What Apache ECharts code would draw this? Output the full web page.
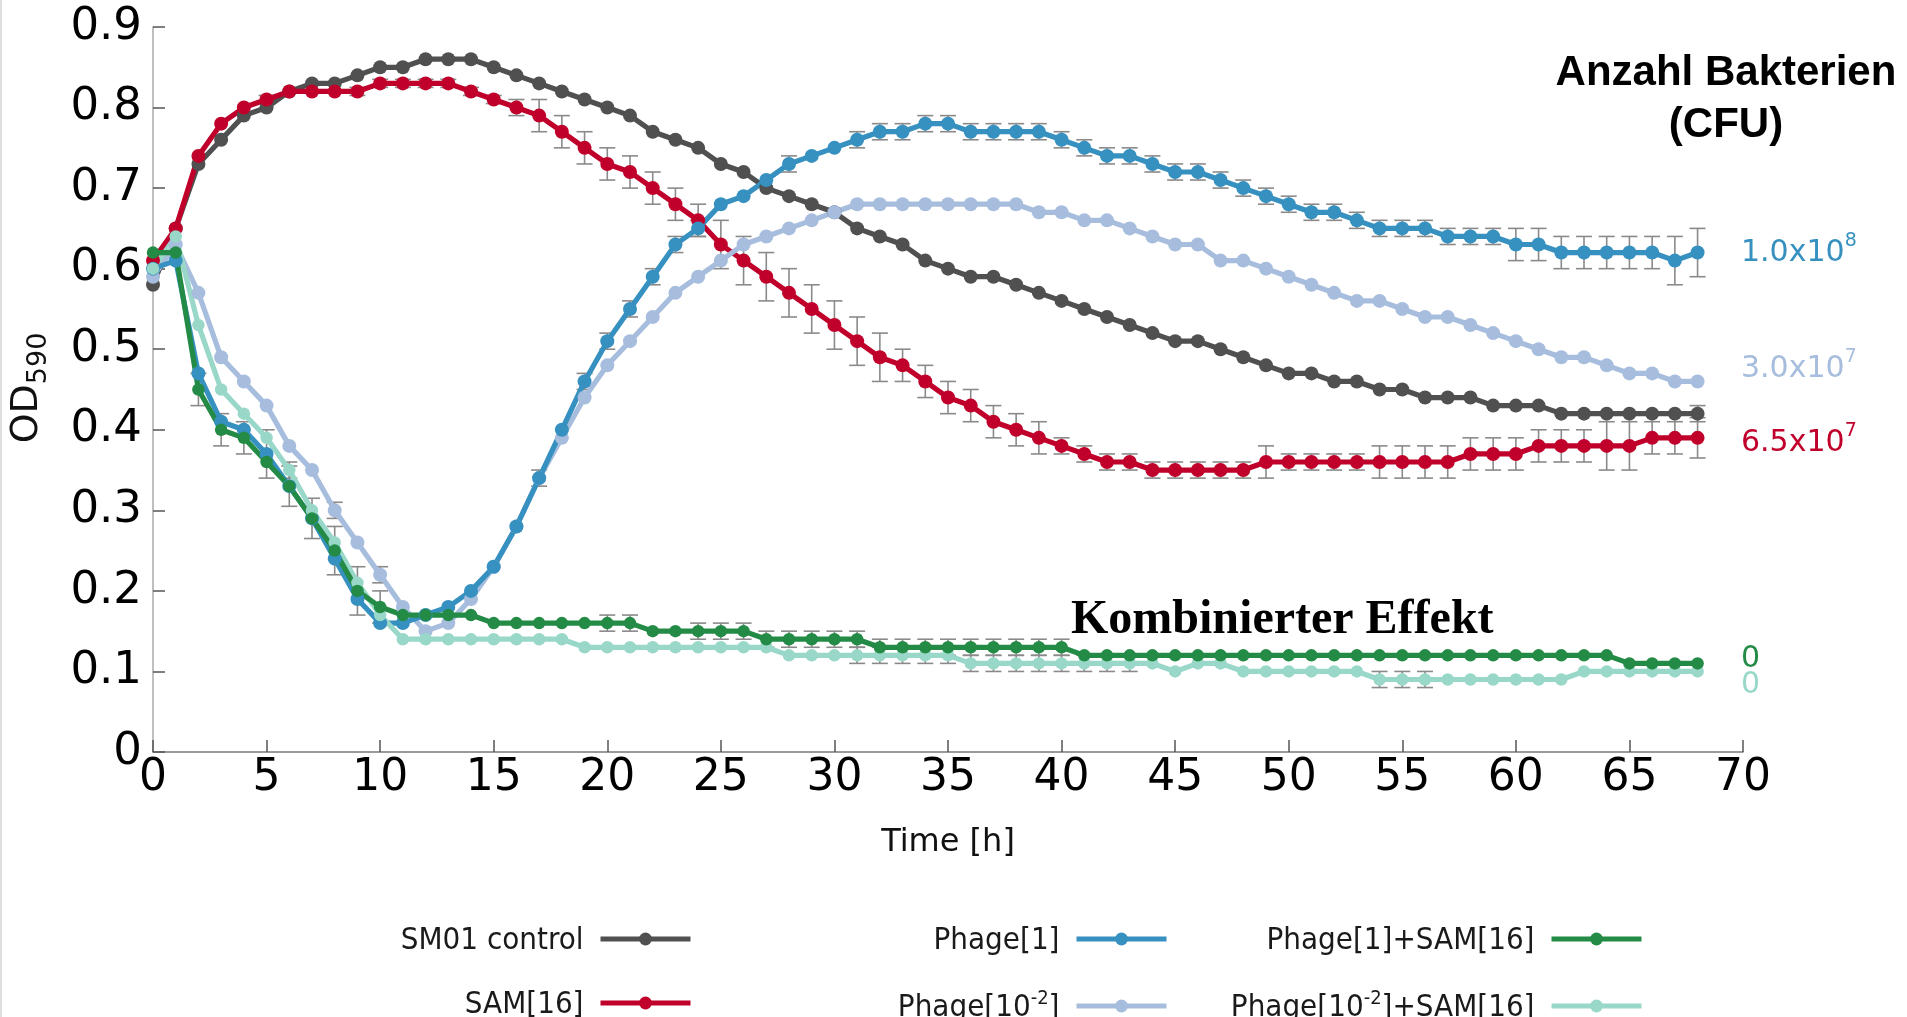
<!DOCTYPE html>
<html>
<head>
<meta charset="utf-8">
<script src="https://cdn.jsdelivr.net/npm/echarts@6/dist/echarts.min.js"></script>
<style>html,body{margin:0;padding:0;background:#fff}#c{width:1907px;height:1017px}</style>
</head>
<body>
<div id="c"></div>
<script>
// ---------------- DATA ----------------
const hours = [0,1,2,3,4,5,6,7,8,9,10,11,12,13,14,15,16,17,18,19,20,21,22,23,24,25,26,27,28,29,30,31,32,33,34,35,36,37,38,39,40,41,42,43,44,45,46,47,48,49,50,51,52,53,54,55,56,57,58,59,60,61,62,63,64,65,66,67,68];

const ctrl = [0.58,0.65,0.73,0.76,0.79,0.80,0.82,0.83,0.83,0.84,
  0.85,0.85,0.86,0.86,0.86,0.85,0.84,0.83,0.82,0.81,
  0.80,0.79,0.77,0.76,0.75,0.73,0.72,0.70,0.69,0.68,
  0.67,0.65,0.64,0.63,0.61,0.60,0.59,0.59,0.58,0.57,
  0.56,0.55,0.54,0.53,0.52,0.51,0.51,0.50,0.49,0.48,
  0.47,0.47,0.46,0.46,0.45,0.45,0.44,0.44,0.44,0.43,
  0.43,0.43,0.42,0.42,0.42,0.42,0.42,0.42,0.42];
const ctrlErr = [0,0,0,0,0,0,0,0,0,0, 0,0,0,0,0,0,0,0,0,0, 0,0,0,0,0,0,0,0,0,0,
  0,0,0,0,0,0,0,0,0,0, 0,0,0,0,0,0,0,0,0,0, 0,0,0,0,0,0,0,0,0,0, 0,0,0,0,0,0,0,0,0.01];

const sam = [0.61,0.65,0.74,0.78,0.80,0.81,0.82,0.82,0.82,0.82,
  0.83,0.83,0.83,0.83,0.82,0.81,0.80,0.79,0.77,0.75,
  0.73,0.72,0.70,0.68,0.66,0.63,0.61,0.59,0.57,0.55,
  0.53,0.51,0.49,0.48,0.46,0.44,0.43,0.41,0.40,0.39,
  0.38,0.37,0.36,0.36,0.35,0.35,0.35,0.35,0.35,0.36,
  0.36,0.36,0.36,0.36,0.36,0.36,0.36,0.36,0.37,0.37,
  0.37,0.38,0.38,0.38,0.38,0.38,0.39,0.39,0.39];
const samErr = [0,0,0,0,0,0.005,0,0,0,0.005,
  0.005,0.005,0.005,0.005,0.005,0.005,0.01,0.02,0.02,0.02,
  0.02,0.02,0.02,0.02,0.02,0.03,0.03,0.03,0.03,0.03,
  0.03,0.03,0.03,0.02,0.02,0.02,0.02,0.02,0.02,0.02,
  0.01,0.01,0.01,0.01,0.01,0.01,0.01,0.01,0.01,0.02,
  0.01,0.01,0.01,0.01,0.02,0.02,0.02,0.02,0.02,0.02,
  0.02,0.02,0.02,0.02,0.03,0.03,0.02,0.02,0.025];

const phage1 = [0.60,0.61,0.47,0.41,0.40,0.37,0.33,0.29,0.24,0.19,
  0.16,0.16,0.17,0.18,0.20,0.23,0.28,0.34,0.40,0.46,
  0.51,0.55,0.59,0.63,0.65,0.68,0.69,0.71,0.73,0.74,
  0.75,0.76,0.77,0.77,0.78,0.78,0.77,0.77,0.77,0.77,
  0.76,0.75,0.74,0.74,0.73,0.72,0.72,0.71,0.70,0.69,
  0.68,0.67,0.67,0.66,0.65,0.65,0.65,0.64,0.64,0.64,
  0.63,0.63,0.62,0.62,0.62,0.62,0.62,0.61,0.62];
const phage1Err = [0,0,0,0,0,0.03,0,0,0,0,
  0,0,0,0,0,0,0,0.01,0,0.01,
  0.01,0.01,0.01,0.01,0.01,0,0,0,0.01,0,
  0,0.01,0.01,0.01,0.01,0.01,0.01,0.01,0.01,0.01,
  0.01,0.01,0.01,0.01,0.01,0.01,0.01,0.01,0.01,0.01,
  0.01,0.01,0.01,0.01,0.01,0.01,0.01,0.01,0.01,0.01,
  0.02,0.02,0.02,0.02,0.02,0.02,0.02,0.03,0.03];

const phage2 = [0.59,0.63,0.57,0.49,0.46,0.43,0.38,0.35,0.30,0.26,
  0.22,0.18,0.15,0.16,0.19,0.23,0.28,0.34,0.39,0.44,
  0.48,0.51,0.54,0.57,0.59,0.61,0.63,0.64,0.65,0.66,
  0.67,0.68,0.68,0.68,0.68,0.68,0.68,0.68,0.68,0.67,
  0.67,0.66,0.66,0.65,0.64,0.63,0.63,0.61,0.61,0.60,
  0.59,0.58,0.57,0.56,0.56,0.55,0.54,0.54,0.53,0.52,
  0.51,0.50,0.49,0.49,0.48,0.47,0.47,0.46,0.46];
const phage2Err = [0,0,0,0,0,0,0,0,0.01,0, 0.01,0,0,0,0,0,0,0,0,0, 0,0,0,0,0,0,0,0,0,0,
  0,0,0,0,0,0,0,0,0,0, 0,0,0,0,0,0,0,0,0,0, 0,0,0,0,0,0,0,0,0,0, 0,0,0,0,0,0,0,0,0];

const combo1 = [0.62,0.62,0.45,0.40,0.39,0.36,0.33,0.29,0.25,0.20,
  0.18,0.17,0.17,0.17,0.17,0.16,0.16,0.16,0.16,0.16,
  0.16,0.16,0.15,0.15,0.15,0.15,0.15,0.14,0.14,0.14,
  0.14,0.14,0.13,0.13,0.13,0.13,0.13,0.13,0.13,0.13,
  0.13,0.12,0.12,0.12,0.12,0.12,0.12,0.12,0.12,0.12,
  0.12,0.12,0.12,0.12,0.12,0.12,0.12,0.12,0.12,0.12,
  0.12,0.12,0.12,0.12,0.12,0.11,0.11,0.11,0.11];
const combo1Err = [0,0,0.02,0.02,0.02,0,0.025,0.025,0.03,0.03,
  0.02,0,0,0,0,0,0,0,0,0,
  0.01,0.01,0,0,0.01,0.01,0.01,0.01,0.01,0.01,
  0.01,0.01,0.01,0.01,0.01,0.01,0.01,0.01,0.01,0.01,
  0.01,0,0,0,0,0,0,0,0,0, 0,0,0,0,0,0,0,0,0,0, 0,0,0,0,0,0,0,0,0];

const combo2 = [0.60,0.64,0.53,0.45,0.42,0.39,0.35,0.30,0.26,0.21,
  0.17,0.14,0.14,0.14,0.14,0.14,0.14,0.14,0.14,0.13,
  0.13,0.13,0.13,0.13,0.13,0.13,0.13,0.13,0.12,0.12,
  0.12,0.12,0.12,0.12,0.12,0.12,0.11,0.11,0.11,0.11,
  0.11,0.11,0.11,0.11,0.11,0.10,0.11,0.11,0.10,0.10,
  0.10,0.10,0.10,0.10,0.09,0.09,0.09,0.09,0.09,0.09,
  0.09,0.09,0.09,0.10,0.10,0.10,0.10,0.10,0.10];
const combo2Err = [0,0,0,0,0,0,0.01,0,0,0, 0,0,0,0,0,0,0,0,0,0, 0,0,0,0,0,0,0,0,0,0,
  0,0.01,0.01,0.01,0.01,0.01,0.01,0.01,0.01,0.01,
  0.01,0.01,0.01,0.01,0,0,0,0,0,0,
  0,0,0,0,0.01,0.01,0.01,0,0,0, 0,0,0,0,0,0,0,0,0];

const yTicks = ['0','0.1','0.2','0.3','0.4','0.5','0.6','0.7','0.8','0.9'];

// end-of-curve CFU labels
const cfuLabels = [
  {main:'1.0x10', sup:'8', color:'#3690C0', y:250},
  {main:'3.0x10', sup:'7', color:'#A7BDDD', y:366},
  {main:'6.5x10', sup:'7', color:'#C0002B', y:440},
  {main:'0', sup:'', color:'#238B45', y:656},
  {main:'0', sup:'', color:'#99D8C9', y:682}
];

// ---------------- SERIES DEFINITIONS (draw order) ----------------
const defs = [
  {name:'SM01 control', data:ctrl, err:ctrlErr, color:'#505050', size:14},
  {name:'SAM[16]', data:sam, err:samErr, color:'#C0002B', size:14},
  {name:'Phage[10^-2]', data:phage2, err:phage2Err, color:'#A7BDDD', size:14},
  {name:'Phage[1]', data:phage1, err:phage1Err, color:'#3690C0', size:14},
  {name:'Phage[10^-2]+SAM[16]', data:combo2, err:combo2Err, color:'#99D8C9', size:12.5},
  {name:'Phage[1]+SAM[16]', data:combo1, err:combo1Err, color:'#238B45', size:12.5}
];

const series = [];
defs.forEach(d => {
  const errData = [];
  hours.forEach((t, i) => { if (d.err[i] > 0) errData.push([t, d.data[i] - d.err[i], d.data[i] + d.err[i]]); });
  series.push({
    type:'custom', name:d.name + ' sd', silent:true, z:1,
    encode:{x:0, y:[1,2]},
    data: errData,
    renderItem(params, api) {
      const x = api.value(0);
      const lo = api.coord([x, api.value(1)]);
      const hi = api.coord([x, api.value(2)]);
      const w = 8;
      const st = {stroke:'#8a8a8a', lineWidth:1.6};
      return {type:'group', children:[
        {type:'line', shape:{x1:lo[0], y1:lo[1], x2:hi[0], y2:hi[1]}, style:st},
        {type:'line', shape:{x1:lo[0]-w, y1:lo[1], x2:lo[0]+w, y2:lo[1]}, style:st},
        {type:'line', shape:{x1:hi[0]-w, y1:hi[1], x2:hi[0]+w, y2:hi[1]}, style:st}
      ]};
    }
  });
});
defs.forEach(d => {
  series.push({
    type:'line', name:d.name, z:2,
    data: hours.map((t, i) => [t, d.data[i]]),
    symbol:'circle', symbolSize:d.size, showAllSymbol:true,
    lineStyle:{color:d.color, width:5.2},
    itemStyle:{color:d.color},
    emphasis:{disabled:true}
  });
});

function legendFmt(name) {
  if (name.indexOf('10^-2') >= 0) {
    const parts = name.split('10^-2');
    return '{n|' + parts[0] + '10}{s|-2}{n|' + parts[1] + '}';
  }
  return '{n|' + name + '}';
}
const legFont = '"DejaVu Sans Condensed", "DejaVu Sans", sans-serif';
const legendBase = {
  orient:'vertical', align:'right', itemWidth:90, itemHeight:16, itemGap:33,
  top:920, height:170,
  selectedMode:false, formatter:legendFmt,
  lineStyle:{width:5},
  textStyle:{
    padding:[0,12,0,0],
    rich:{
      n:{fontSize:31, fontFamily:legFont, color:'#1a1a1a', lineHeight:34, verticalAlign:'bottom'},
      s:{fontSize:20, fontFamily:legFont, color:'#1a1a1a', lineHeight:19, verticalAlign:'top'}
    }
  }
};

const graphics = [
  {type:'line', shape:{x1:1, y1:0, x2:1, y2:1017}, style:{stroke:'#dedede', lineWidth:2}, silent:true},
  {type:'text', x:27, y:388, rotation:Math.PI/2, silent:true, style:{
    text:'{a|OD}{b|590}', align:'center', verticalAlign:'middle',
    rich:{
      a:{fontSize:38, fontFamily:'DejaVu Sans', fill:'#111', lineHeight:50, verticalAlign:'middle'},
      b:{fontSize:27, fontFamily:'DejaVu Sans', fill:'#111', lineHeight:27, verticalAlign:'bottom'}
    }}},
  {type:'text', x:1726, y:99, silent:true, style:{
    text:'Anzahl Bakterien\n(CFU)', align:'center', verticalAlign:'middle',
    font:'bold 42px "Liberation Sans", Arial, sans-serif', lineHeight:52, fill:'#000'}},
  {type:'text', x:1071, y:621, silent:true, style:{
    text:'Kombinierter Effekt', align:'left', verticalAlign:'middle',
    font:'bold 48px "Liberation Serif", "Times New Roman", serif', fill:'#000'}}
];
cfuLabels.forEach(l => {
  graphics.push({type:'text', x:1741, y:l.y, silent:true, style:{
    text: l.sup ? '{m|' + l.main + '}{s|' + l.sup + '}' : '{m|' + l.main + '}',
    align:'left', verticalAlign:'middle',
    rich:{
      m:{fontSize:30, fontFamily:'DejaVu Sans', fill:l.color, lineHeight:36, verticalAlign:'bottom'},
      s:{fontSize:19, fontFamily:'DejaVu Sans', fill:l.color, lineHeight:19, verticalAlign:'top'}
    }}});
});

const chart = echarts.init(document.getElementById('c'), null, {renderer:'canvas'});
chart.setOption({
  animation:false,
  backgroundColor:'#ffffff',
  textStyle:{fontFamily:'DejaVu Sans'},
  grid:{left:153, right:164, top:27, bottom:265, containLabel:false, outerBoundsMode:'none'},
  xAxis:{
    type:'value', min:0, max:70, interval:5,
    axisLine:{show:true, lineStyle:{color:'#7a7a7a', width:1.5}},
    axisTick:{show:true, inside:true, length:12, lineStyle:{color:'#555', width:1.5}},
    axisLabel:{fontSize:44, color:'#000', margin:5, fontFamily:'DejaVu Sans'},
    splitLine:{show:false},
    name:'Time [h]', nameLocation:'middle', nameGap:75,
    nameTextStyle:{fontSize:32, color:'#111', fontFamily:'DejaVu Sans'}
  },
  yAxis:{
    type:'value', min:0, max:0.9, interval:0.1,
    axisLine:{show:true, lineStyle:{color:'#aaaaaa', width:1.5}},
    axisTick:{show:true, inside:true, length:12, lineStyle:{color:'#555', width:1.5}},
    axisLabel:{fontSize:45, color:'#000', margin:11, fontFamily:'DejaVu Sans',
      formatter:(v) => yTicks[Math.round(v * 10)]},
    splitLine:{show:false}
  },
  legend:[
    Object.assign({}, legendBase, {data:['SM01 control','SAM[16]'], right:1209}),
    Object.assign({}, legendBase, {data:['Phage[1]','Phage[10^-2]'], right:733}),
    Object.assign({}, legendBase, {data:['Phage[1]+SAM[16]','Phage[10^-2]+SAM[16]'], right:258})
  ],
  graphic: graphics,
  series: series
});
</script>
</body>
</html>
